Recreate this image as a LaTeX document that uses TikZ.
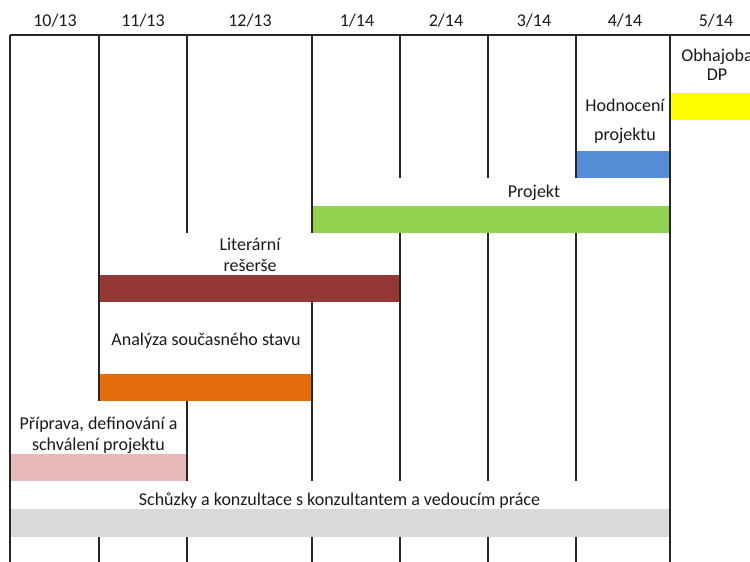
\documentclass[tikz,border=0pt]{standalone}
\usepackage{fontspec}
\setmainfont{Carlito}
\definecolor{gridc}{HTML}{262626}
\definecolor{txt}{HTML}{1A1A1A}
\definecolor{cyellow}{HTML}{FFFF00}
\definecolor{cblue}{HTML}{558ED5}
\definecolor{cgreen}{HTML}{92D050}
\definecolor{cdred}{HTML}{953735}
\definecolor{corange}{HTML}{E46C0A}
\definecolor{cpink}{HTML}{E6B9B8}
\definecolor{cgray}{HTML}{D9D9D9}
\begin{document}
\begin{tikzpicture}[x=1pt,y=-1pt,
  gridline/.style={draw=gridc,line width=1.4pt},
  blank/.style={fill=white},
  lbl/.style={anchor=base,inner sep=0pt,font=\fontsize{18}{21}\selectfont,text=txt},
]
\useasboundingbox (0,0) rectangle (750,562);
\clip (0,0) rectangle (750,562);
% grid
\draw[gridline] (10,35) -- (760,35);
\foreach \x in {10,99,187,312,400,488,576,670}
  \draw[gridline] (\x,35) -- (\x,563);
% header labels
\node[lbl] (h1) at (55,27) {10/13};
\node[lbl] (h2) at (143,27) {11/13};
\node[lbl] (h3) at (250,27) {12/13};
\node[lbl] (h4) at (357,27) {1/14};
\node[lbl] (h5) at (446,27) {2/14};
\node[lbl] (h6) at (534,27) {3/14};
\node[lbl] (h7) at (625,27) {4/14};
\node[lbl] (h8) at (716,27) {5/14};
% Obhajoba DP
\fill[blank] (670.8,36) rectangle (765,93);
\fill[cyellow] (670.8,93) rectangle (765,120);
\node[lbl] (t1a) at (717,61) {Obhajoba};
\node[lbl] (t1b) at (717,80.5) {DP};
% Hodnoceni projektu
\fill[blank] (576.8,90) rectangle (669.2,151);
\fill[cblue] (576.8,151) rectangle (669.2,178);
\node[lbl] (t2a) at (625,111.7) {Hodnocení};
\node[lbl] (t2b) at (625,140.7) {projektu};
% Projekt
\fill[blank] (312.8,178) rectangle (669.2,206);
\fill[cgreen] (312.8,206) rectangle (669.2,233);
\node[lbl] (t3) at (534,197.5) {Projekt};
% Literarni reserse
\fill[blank] (99.8,233) rectangle (399.2,275);
\fill[cdred] (99.8,275) rectangle (399.2,302);
\node[lbl] (t4a) at (250,250.7) {Literární};
\node[lbl] (t4b) at (250,271.5) {rešerše};
% Analyza
\fill[blank] (99.8,302) rectangle (311.2,374);
\fill[corange] (99.8,374) rectangle (311.2,401);
\node[lbl] (t5) at (206,345) {Analýza současného stavu};
% Priprava
\fill[blank] (10.8,401) rectangle (186.2,454);
\fill[cpink] (10.8,454) rectangle (186.2,481);
\node[lbl] (t6a) at (98.5,429) {Příprava, definování a};
\node[lbl] (t6b) at (98.5,450) {schválení projektu};
% Schuzky
\fill[blank] (10.8,481) rectangle (669.2,509);
\fill[cgray] (10.8,509) rectangle (669.2,537);
\node[lbl] (t7) at (339.5,505.5) {Schůzky a konzultace s konzultantem a vedoucím práce};
\end{tikzpicture}
\end{document}
